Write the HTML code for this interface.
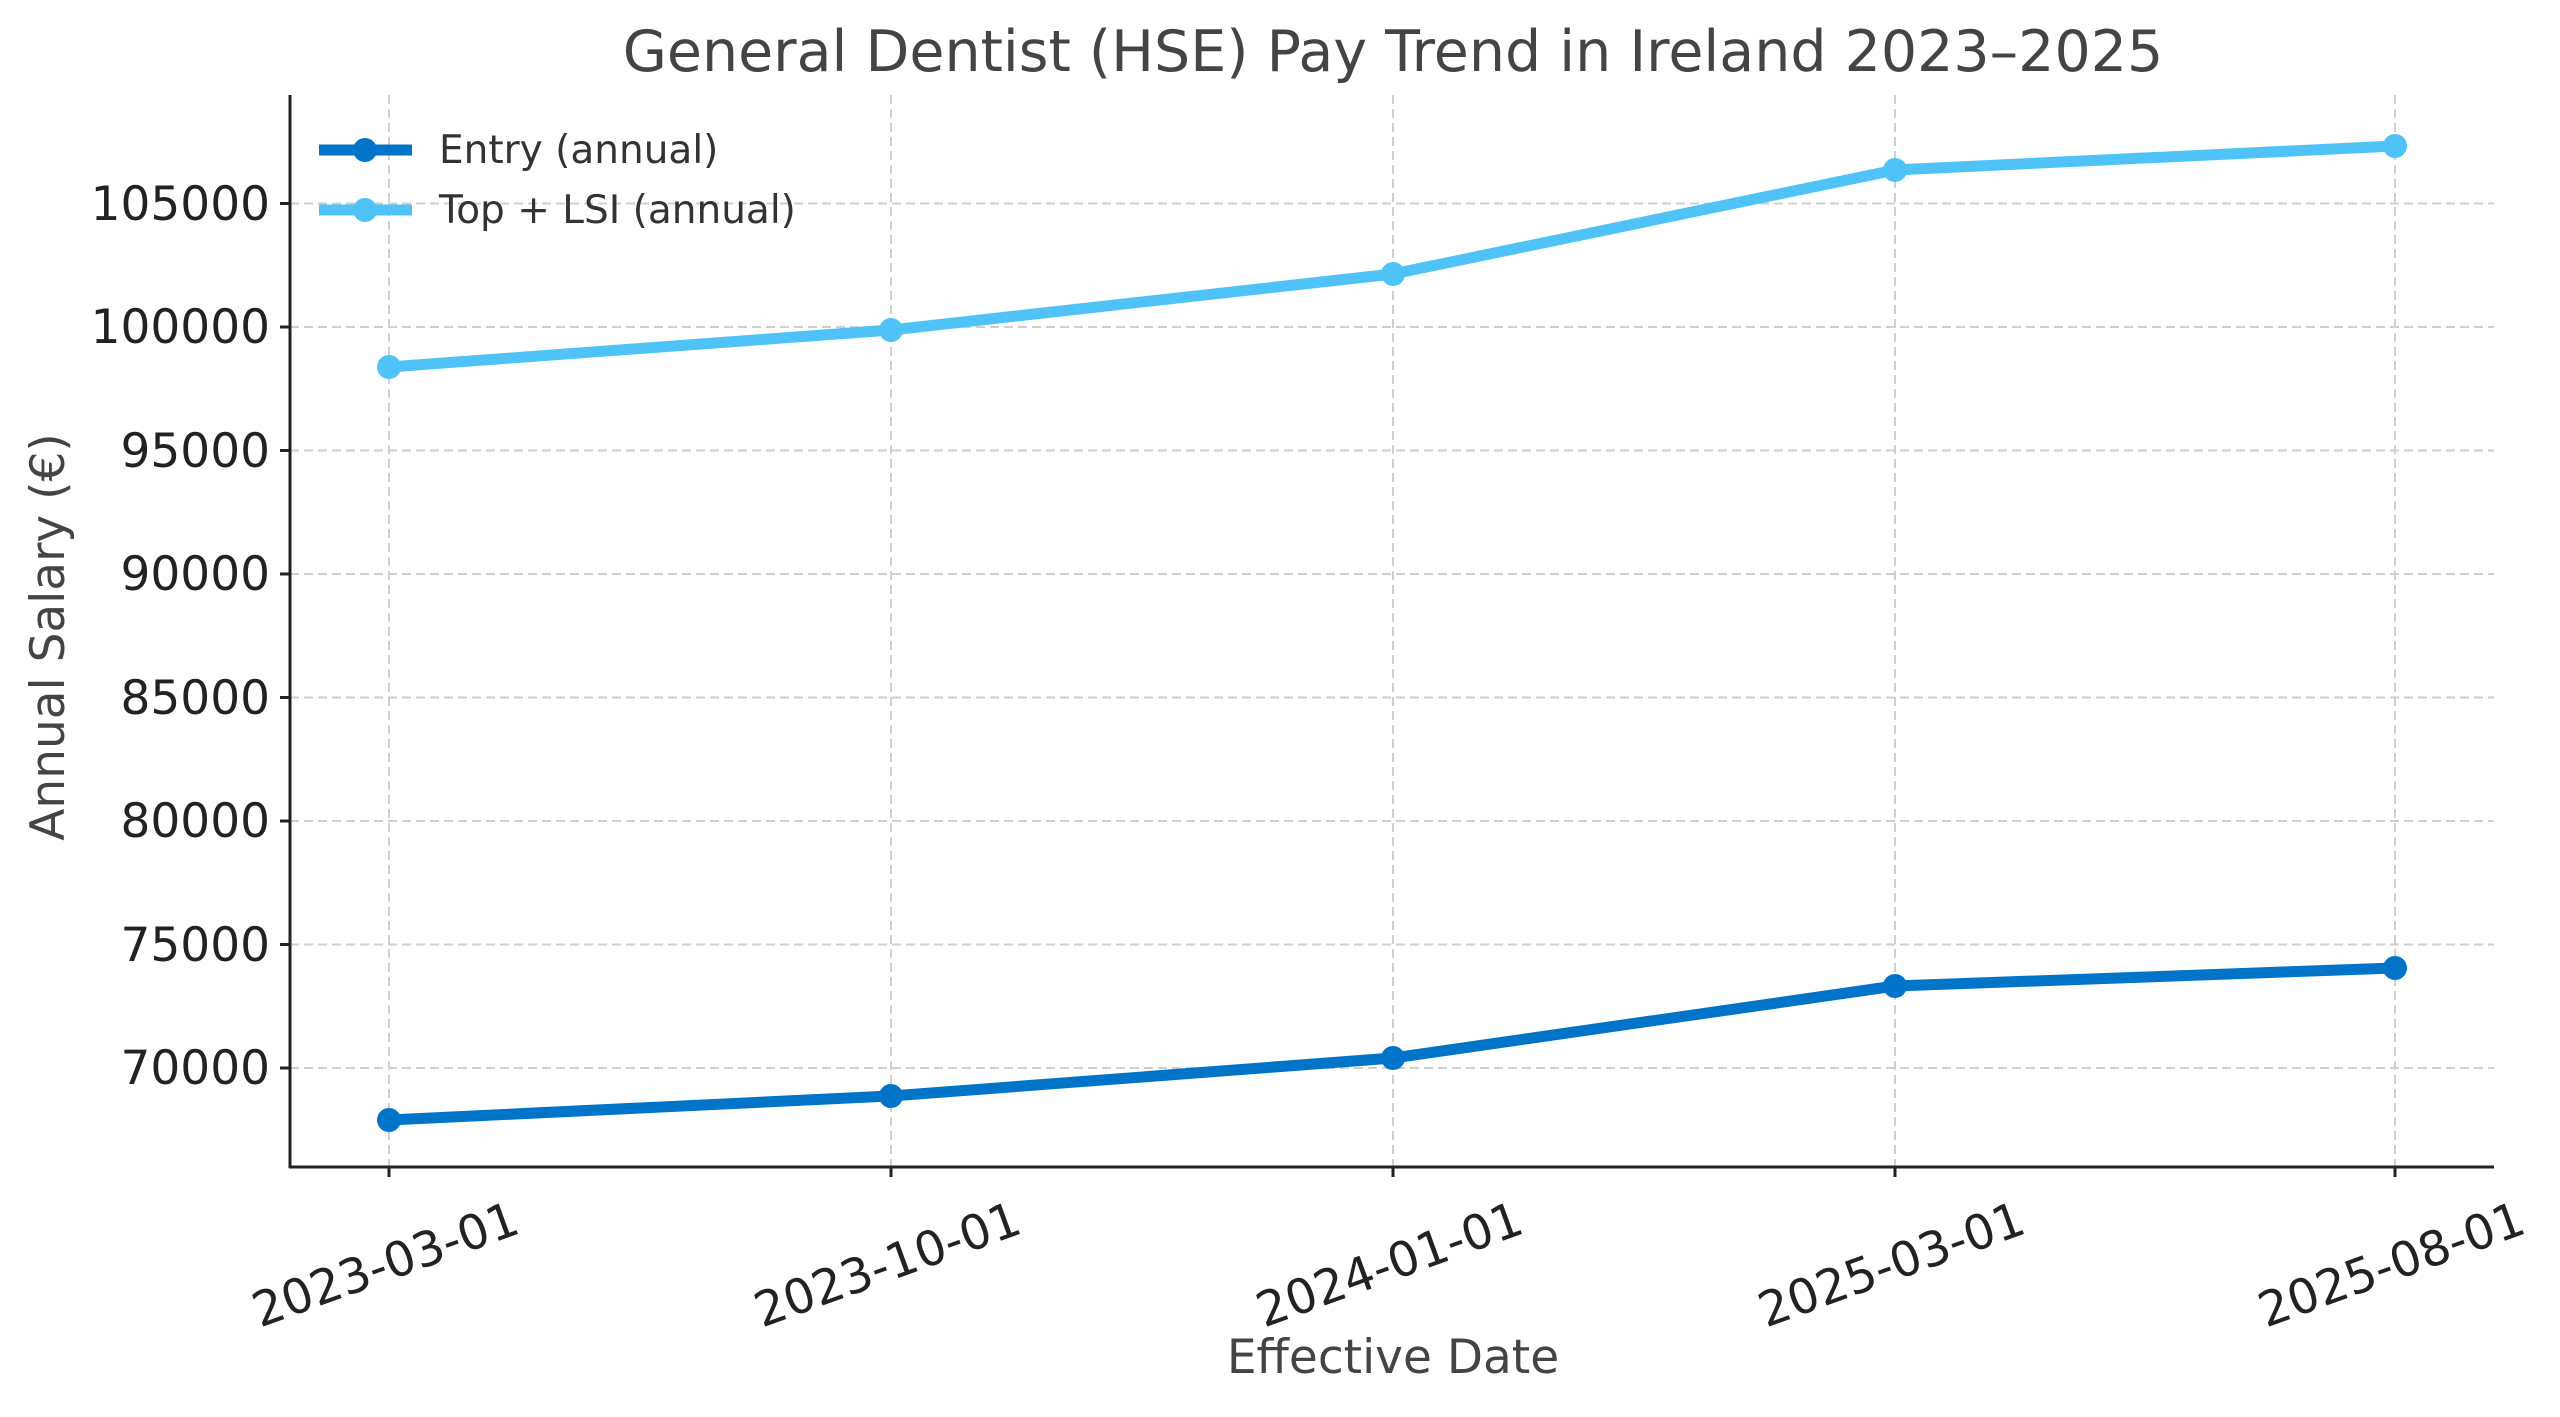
<!DOCTYPE html>
<html><head><meta charset="utf-8"><style>html,body{margin:0;padding:0;background:#fff}</style></head>
<body>
<svg width="2560" height="1412" viewBox="0 0 2560 1412" xmlns="http://www.w3.org/2000/svg" font-family="DejaVu Sans, Liberation Sans, sans-serif">
<rect width="2560" height="1412" fill="#fff"/>
<g stroke="#cfcfcf" stroke-width="2" stroke-dasharray="9,5">
<line x1="290" x2="2494" y1="203.5" y2="203.5"/>
<line x1="290" x2="2494" y1="327" y2="327"/>
<line x1="290" x2="2494" y1="450.5" y2="450.5"/>
<line x1="290" x2="2494" y1="574" y2="574"/>
<line x1="290" x2="2494" y1="697.5" y2="697.5"/>
<line x1="290" x2="2494" y1="821" y2="821"/>
<line x1="290" x2="2494" y1="944.5" y2="944.5"/>
<line x1="290" x2="2494" y1="1068" y2="1068"/>
<line x1="389" x2="389" y1="95" y2="1167"/>
<line x1="891" x2="891" y1="95" y2="1167"/>
<line x1="1393" x2="1393" y1="95" y2="1167"/>
<line x1="1895" x2="1895" y1="95" y2="1167"/>
<line x1="2395" x2="2395" y1="95" y2="1167"/>
</g>
<g stroke="#222" stroke-width="3">
<line x1="290" x2="290" y1="95" y2="1168"/>
<line x1="289" x2="2494" y1="1167" y2="1167"/>
<line x1="280" x2="290" y1="203.5" y2="203.5"/><line x1="280" x2="290" y1="327" y2="327"/>
<line x1="280" x2="290" y1="450.5" y2="450.5"/><line x1="280" x2="290" y1="574" y2="574"/>
<line x1="280" x2="290" y1="697.5" y2="697.5"/><line x1="280" x2="290" y1="821" y2="821"/>
<line x1="280" x2="290" y1="944.5" y2="944.5"/><line x1="280" x2="290" y1="1068" y2="1068"/>
<line x1="389" x2="389" y1="1167" y2="1177"/><line x1="891" x2="891" y1="1167" y2="1177"/>
<line x1="1393" x2="1393" y1="1167" y2="1177"/><line x1="1895" x2="1895" y1="1167" y2="1177"/>
<line x1="2395" x2="2395" y1="1167" y2="1177"/>
</g>
<g font-size="47" fill="#222" text-anchor="end">
<text x="270" y="220">105000</text><text x="270" y="343">100000</text>
<text x="270" y="467">95000</text><text x="270" y="590">90000</text>
<text x="270" y="714">85000</text><text x="270" y="837">80000</text>
<text x="270" y="961">75000</text><text x="270" y="1084">70000</text>
</g>
<g font-size="48" fill="#222" text-anchor="middle">
<text transform="translate(391,1280) rotate(-20)">2023-03-01</text>
<text transform="translate(893,1280) rotate(-20)">2023-10-01</text>
<text transform="translate(1395,1280) rotate(-20)">2024-01-01</text>
<text transform="translate(1897,1280) rotate(-20)">2025-03-01</text>
<text transform="translate(2397,1280) rotate(-20)">2025-08-01</text>
</g>
<text x="1393" y="1373" font-size="47" fill="#444" text-anchor="middle">Effective Date</text>
<text transform="translate(64,637) rotate(-90)" font-size="47" fill="#444" text-anchor="middle">Annual Salary (€)</text>
<text x="1393" y="71" font-size="57" fill="#444" text-anchor="middle">General Dentist (HSE) Pay Trend in Ireland 2023–2025</text>
<g fill="none" stroke-width="11" stroke-linejoin="round">
<polyline stroke="#4FC3F7" points="389,367 891,330 1393,274 1895,170 2395,146"/>
<polyline stroke="#0074C8" points="389,1120 891,1096 1393,1058 1895,986 2395,968"/>
</g>
<g fill="#4FC3F7"><circle cx="389" cy="367" r="12"/><circle cx="891" cy="330" r="12"/><circle cx="1393" cy="274" r="12"/><circle cx="1895" cy="170" r="12"/><circle cx="2395" cy="146" r="12"/></g>
<g fill="#0074C8"><circle cx="389" cy="1120" r="12"/><circle cx="891" cy="1096" r="12"/><circle cx="1393" cy="1058" r="12"/><circle cx="1895" cy="986" r="12"/><circle cx="2395" cy="968" r="12"/></g>
<line x1="319" x2="412" y1="150" y2="150" stroke="#0074C8" stroke-width="11"/>
<circle cx="365" cy="150" r="12" fill="#0074C8"/>
<line x1="319" x2="412" y1="210" y2="210" stroke="#4FC3F7" stroke-width="11"/>
<circle cx="365" cy="210" r="12" fill="#4FC3F7"/>
<g font-size="39" fill="#333">
<text x="439" y="163">Entry (annual)</text>
<text x="439" y="223">Top + LSI (annual)</text>
</g>
</svg>
</body></html>
